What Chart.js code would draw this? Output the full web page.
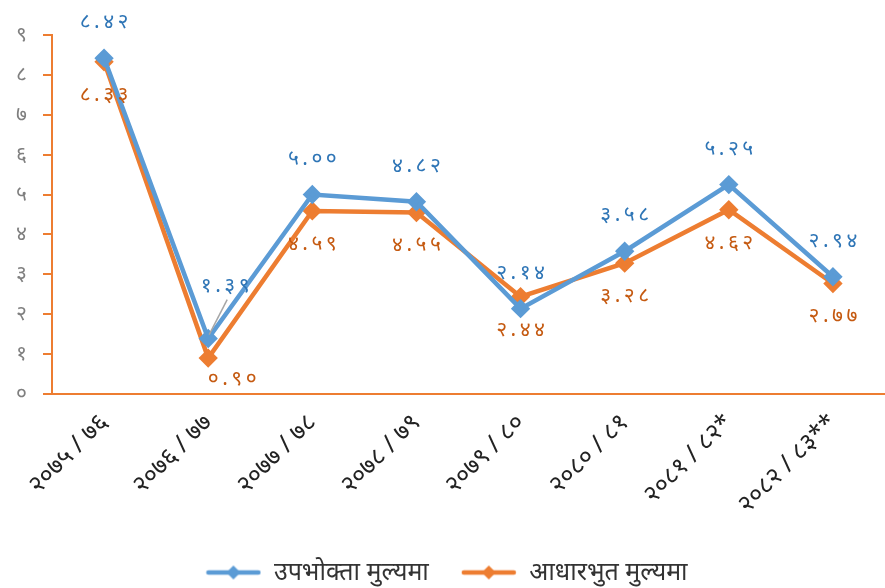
<!DOCTYPE html>
<html>
<head>
<meta charset="utf-8">
<script src="https://cdn.jsdelivr.net/npm/chart.js@4"></script>
<style>
  html, body { margin: 0; padding: 0; background: #fff; }
  #wrap { width: 885px; height: 588px; position: relative; }
</style>
</head>
<body>
<div id="wrap"><canvas id="inflChart"></canvas></div>
<script>
// fiscal years (Nepali)
const years = ['२०७५/७६', '२०७६/७७', '२०७७/७८', '२०७८/७९', '२०७९/८०', '२०८०/८१', '२०८१/८२*', '२०८२/८३**'];
const consumerPrice = [8.42, 1.39, 5.00, 4.82, 2.14, 3.58, 5.25, 2.94];
const basicPrice = [8.33, 0.90, 4.59, 4.55, 2.44, 3.28, 4.62, 2.77];
const seriesNames = ['उपभोक्ता मुल्यमा', 'आधारभुत मुल्यमा'];
const yTicks = [0, 1, 2, 3, 4, 5, 6, 7, 8, 9];

const BLUE = '#5B9BD5', ORANGE = '#ED7D31';
const FONT = "'Noto Sans', 'DejaVu Sans', sans-serif";

const devDigits = '०१२३४५६७८९';
function toDev(str) {
    return String(str).replace(/[0-9]/g, d => devDigits[+d]);
}
function spacedYear(s) {
    return s.replace('/', ' / ');
}

// legend swatch: short line with a diamond in the middle
function legendSwatch(color) {
    const c = document.createElement('canvas');
    c.width = 56; c.height = 16;
    const g = c.getContext('2d');
    g.strokeStyle = color; g.lineWidth = 4.5; g.lineCap = 'round';
    g.beginPath(); g.moveTo(3, 8); g.lineTo(53, 8); g.stroke();
    g.fillStyle = color;
    g.beginPath(); g.moveTo(28, 1); g.lineTo(35, 8); g.lineTo(28, 15); g.lineTo(21, 8); g.closePath(); g.fill();
    return c;
}

// value labels above (blue) / below (orange) the points
const valueLabels = {
    id: 'valueLabels',
    afterDatasetsDraw(chart, args, opts) {
        const ctx = chart.ctx;
        ctx.save();
        ctx.font = '21px ' + FONT;
        ctx.textAlign = 'center';
        ctx.textBaseline = 'middle';
        chart.data.datasets.forEach((ds, di) => {
            const meta = chart.getDatasetMeta(di);
            const cfg = opts.sets[di];
            meta.data.forEach((pt, i) => {
                const shift = (cfg.shift && cfg.shift[i]) || [0, 0];
                const x = pt.x + shift[0];
                const y = pt.y + cfg.dy + shift[1];
                if (cfg.leader && cfg.leader[i]) {
                    ctx.strokeStyle = '#a6a6a6'; ctx.lineWidth = 1.5;
                    ctx.beginPath();
                    ctx.moveTo(x + 2, y + 14);
                    ctx.lineTo(pt.x + 1, pt.y - 4);
                    ctx.stroke();
                }
                ctx.fillStyle = cfg.color;
                ctx.fillText(toDev(ds.data[i].toFixed(2)).split('').join('\u2009'), x, y);
            });
        });
        ctx.restore();
    }
};

new Chart(document.getElementById('inflChart'), {
    type: 'line',
    data: {
        labels: years.map(spacedYear),
        datasets: [
            {
                label: seriesNames[0], data: consumerPrice,
                borderColor: BLUE, backgroundColor: BLUE, borderWidth: 4.5,
                pointStyle: 'rectRot', pointRadius: 6.5, pointHoverRadius: 6.5,
                tension: 0
            },
            {
                label: seriesNames[1], data: basicPrice,
                borderColor: ORANGE, backgroundColor: ORANGE, borderWidth: 4.5,
                pointStyle: 'rectRot', pointRadius: 6.5, pointHoverRadius: 6.5,
                tension: 0
            }
        ]
    },
    options: {
        responsive: true, maintainAspectRatio: false, animation: false,
        layout: { autoPadding: false, padding: { top: 35, right: 0, left: 8, bottom: -7 } },
        scales: {
            y: {
                min: 0, max: 9,
                afterBuildTicks: axis => { axis.ticks = yTicks.map(v => ({ value: v })); },
                afterFit: axis => { axis.width = 44; },
                ticks: {
                    callback: v => toDev(v), color: '#7f7f7f', padding: 16,
                    font: { family: FONT, size: 21 }
                },
                grid: { drawOnChartArea: false, color: ORANGE, tickLength: 9, lineWidth: 2 },
                border: { color: ORANGE, width: 2 }
            },
            x: {
                offset: true,
                afterFit: axis => {
                    axis.height = 134;
                    // rotated labels end at their tick, so no extra room is needed on the right
                    axis.getPadding = () => ({ left: 0, top: 0, right: 0, bottom: 0 });
                },
                ticks: {
                    minRotation: 45, maxRotation: 45, color: '#222',
                    font: { family: FONT, size: 25 }, padding: 6
                },
                grid: { display: false },
                border: { color: ORANGE, width: 2 }
            }
        },
        plugins: {
            legend: {
                position: 'bottom',
                labels: {
                    usePointStyle: true, pointStyleWidth: 56, color: '#333', padding: 32,
                    font: { family: FONT, size: 25 },
                    generateLabels: chart => chart.data.datasets.map((ds, i) => ({
                        text: ds.label, pointStyle: legendSwatch(ds.borderColor),
                        fillStyle: ds.borderColor, strokeStyle: ds.borderColor,
                        fontColor: '#333', datasetIndex: i, hidden: false
                    }))
                }
            },
            tooltip: { enabled: false },
            valueLabels: {
                sets: [
                    { color: '#2E75B6', dy: -36, shift: { 1: [17, -17] }, leader: { 1: true } },
                    { color: '#C55A11', dy: 33, shift: { 1: [24, -12] } }
                ]
            }
        }
    },
    plugins: [valueLabels]
});
</script>
</body>
</html>
